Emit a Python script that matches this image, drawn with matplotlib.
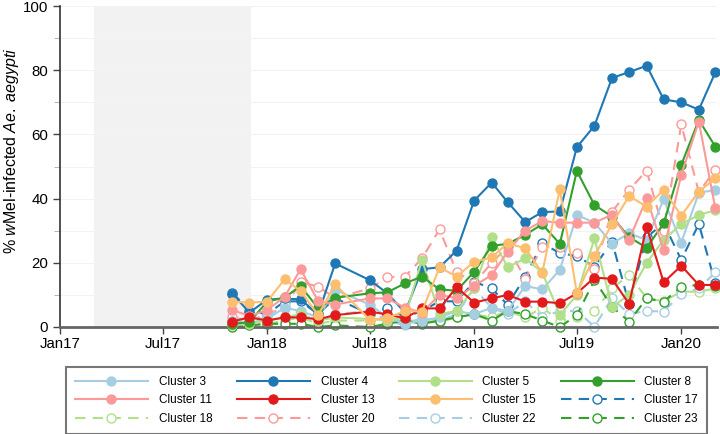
#!/usr/bin/env python3
import numpy as np
import matplotlib
matplotlib.use('Agg')
import matplotlib.pyplot as plt
import matplotlib.dates as mdates
from datetime import datetime

plt.rcParams['font.family'] = ['Liberation Sans', 'DejaVu Sans']
plt.rcParams['mathtext.fontset'] = 'custom'
plt.rcParams['mathtext.rm'] = 'Liberation Sans'
plt.rcParams['mathtext.it'] = 'Liberation Sans:italic'

# monthly sampling (no June 2018 round)
months = ['2017-11', '2017-12', '2018-01', '2018-02', '2018-03', '2018-04', '2018-05',
          '2018-07', '2018-08', '2018-09', '2018-10', '2018-11', '2018-12',
          '2019-01', '2019-02', '2019-03', '2019-04', '2019-05', '2019-06',
          '2019-07', '2019-08', '2019-09', '2019-10', '2019-11', '2019-12',
          '2020-01', '2020-02', '2020-03']

cluster_names = ['Cluster 3', 'Cluster 4', 'Cluster 5', 'Cluster 8',
                 'Cluster 11', 'Cluster 13', 'Cluster 15', 'Cluster 17',
                 'Cluster 18', 'Cluster 20', 'Cluster 22', 'Cluster 23']

c3 = [2.0, 3.0, 2.5, 6.0, 5.0, 3.0, 11.5, 7.0, 3.0, 1.0, 2.0, 3.0, 5.0, 4.0,
      6.0, 5.0, 12.8, 11.7, 17.8, 34.9, 32.5, 26.0, 29.2, 27.1, 39.8, 26.3, 41.8, 42.7]
c4 = [10.3, 4.5, 8.5, 8.9, 8.6, 4.0, 19.8, 14.6, 10.5, 4.5, 18.0, 18.6, 23.8, 39.4,
      45.0, 38.9, 32.7, 35.8, 36.0, 56.0, 62.7, 77.6, 79.4, 81.4, 70.9, 70.0, 67.7, 79.3]
c5 = [0.5, 1.0, 2.0, 3.0, 4.0, 2.0, 3.0, 2.5, 2.0, 3.0, 20.9, 4.0, 5.0, 12.0,
      28.1, 18.6, 21.4, 17.0, 3.7, 10.0, 27.6, 6.3, 10.0, 20.0, 27.1, 32.1, 34.9, 36.4]
c8 = [1.0, 1.5, 7.9, 9.2, 12.8, 5.8, 9.1, 10.5, 10.8, 13.6, 15.7, 11.7, 11.3, 17.2,
      25.3, 25.9, 28.7, 32.0, 25.9, 48.6, 38.0, 34.4, 28.0, 24.7, 32.3, 50.5, 64.5, 56.2]
c11 = [5.3, 3.4, 5.3, 9.4, 18.0, 8.1, 7.0, 8.9, 8.9, 6.0, 4.5, 10.0, 9.0, 12.8,
       16.2, 23.5, 30.0, 33.0, 32.5, 32.5, 32.5, 35.0, 27.1, 40.1, 24.0, 47.4, 64.0, 37.0]
c13 = [1.7, 3.0, 2.0, 3.0, 3.0, 2.4, 3.7, 4.8, 3.9, 2.7, 5.8, 5.8, 12.4, 7.6,
       8.9, 10.0, 7.9, 7.9, 7.4, 10.5, 15.4, 15.0, 7.2, 31.2, 13.9, 19.1, 13.1, 13.1]
c15 = [7.9, 7.6, 7.9, 14.9, 11.2, 3.7, 13.3, 2.2, 2.8, 5.0, 4.8, 18.6, 15.7, 20.3,
       21.7, 26.1, 24.5, 16.9, 42.9, 10.5, 22.1, 32.1, 40.8, 37.5, 42.7, 34.7, 42.2, 46.3]
c17 = [10.7, 5.0, 4.0, 8.0, 8.0, 4.0, 9.0, 4.0, 6.0, 3.0, 5.0, 8.0, 8.0, 14.1,
       12.0, 6.9, 15.7, 26.1, 23.0, 22.1, 18.8, 26.6, 7.2, 28.0, 32.3, 20.9, 32.1, 13.6]
c18 = [0.5, 0.5, 1.0, 2.0, 3.0, 1.0, 2.0, 2.0, 3.0, 2.0, 2.0, 1.5, 3.0, 4.0,
       3.0, 5.0, 3.0, 6.0, 2.0, 3.0, 5.0, 12.0, 16.2, 9.0, 8.0, 11.0, 11.0, 12.0]
c20 = [3.0, 2.0, 4.0, 6.0, 14.0, 12.6, 9.0, 12.0, 15.5, 15.7, 21.4, 30.4, 17.2, 13.6,
       20.0, 25.0, 15.0, 25.0, 25.0, 23.1, 18.0, 35.9, 42.7, 48.7, 30.0, 63.1, 42.0, 49.0]
c22 = [2.0, 1.0, 3.0, 7.0, 4.0, 2.0, 4.0, 5.0, 2.0, 0.5, 3.0, 2.0, 4.0, 12.0,
       6.0, 4.0, 8.0, 3.0, 5.0, 5.0, 0.1, 9.0, 4.0, 5.0, 4.8, 10.3, 12.0, 17.0]
c23 = [0.0, 0.5, 1.0, 1.0, 1.0, 0.0, 0.5, 0.0, 1.0, 2.0, 1.0, 2.0, 3.0, 4.0,
       2.0, 5.0, 4.0, 2.0, 0.0, 3.7, 14.6, 6.3, 1.7, 8.9, 7.9, 12.6, 13.1, 12.9]

series = [c3, c4, c5, c8, c11, c13, c15, c17, c18, c20, c22, c23]
colors = ['#a6cee3', '#1f78b4', '#b2df8a', '#33a02c', '#fb9a99', '#e31a1c',
          '#fdbf6f', '#1f78b4', '#b2df8a', '#fb9a99', '#a6cee3', '#33a02c']
dashed = [False] * 7 + [True] * 5

shade_start = datetime(2017, 3, 2)
shade_end = datetime(2017, 12, 3)


def main():
    dates = [datetime.strptime(m, '%Y-%m') for m in months]

    fig = plt.figure(figsize=(7.2, 4.34), dpi=100)
    ax = fig.add_axes([60 / 720, 1 - 327 / 434, 657 / 720, 321 / 434])

    ax.axvspan(shade_start, shade_end, color='#f2f2f2', lw=0, zorder=0)
    for yv in range(10, 101, 10):
        ax.axhline(yv, color='#f3f3f3', lw=0.8, zorder=0.5)

    handles = []
    for name, vals, col, dsh in zip(cluster_names, series, colors, dashed):
        if dsh:
            h, = ax.plot(dates, vals, color=col, lw=1.5, ls=(0, (5, 3.5)), marker='o',
                         ms=6.5, mfc='white', mec=col, mew=1.0, label=name,
                         clip_on=False, zorder=2)
        else:
            h, = ax.plot(dates, vals, color=col, lw=1.5, marker='o', ms=6.5,
                         mfc=col, mec=col, label=name, clip_on=False, zorder=3)
        handles.append(h)

    ax.set_xlim(datetime(2017, 1, 1), datetime(2020, 3, 4))
    ax.set_ylim(0, 100)
    ax.xaxis.set_major_locator(mdates.MonthLocator(bymonth=[1, 7]))
    ax.xaxis.set_major_formatter(mdates.DateFormatter('%b%y'))
    ax.set_yticks(range(0, 101, 20))
    ax.set_yticks(range(10, 100, 20), minor=True)
    ax.tick_params(axis='both', labelsize=10.8, color='#444444', length=5, width=1)
    ax.tick_params(axis='y', which='minor', length=4, color='#aaaaaa')
    ax.tick_params(axis='x', pad=2)

    for s in ['top', 'right']:
        ax.spines[s].set_visible(False)
    ax.spines['left'].set_color('#333333')
    ax.spines['left'].set_linewidth(1.2)
    ax.spines['bottom'].set_color('#666666')
    ax.spines['bottom'].set_linewidth(2)

    ax.set_ylabel('% $\\mathit{w}$Mel-infected $\\mathit{Ae.\\ aegypti}$', fontsize=11.5)
    ax.yaxis.set_label_coords(-0.06, 0.55)

    # legend is filled row by row in the reference, matplotlib fills columns
    ncol = 4
    nrow = 3
    order = [r * ncol + c for c in range(ncol) for r in range(nrow)]
    leg = fig.legend([handles[i] for i in order], [cluster_names[i] for i in order],
                     loc='upper left', ncol=ncol, mode='expand',
                     bbox_to_anchor=(66 / 720, 1 - 367 / 434, 641 / 720, 0.0),
                     borderaxespad=0, fontsize=8.5, handlelength=6.2,
                     handletextpad=0.9, labelspacing=0.55, columnspacing=1.0,
                     fancybox=False, borderpad=0.75)
    leg.get_frame().set_edgecolor('#555555')
    leg.get_frame().set_linewidth(1.5)

    fig.savefig('out.png', dpi=100)
    plt.close(fig)


if __name__ == '__main__':
    main()
